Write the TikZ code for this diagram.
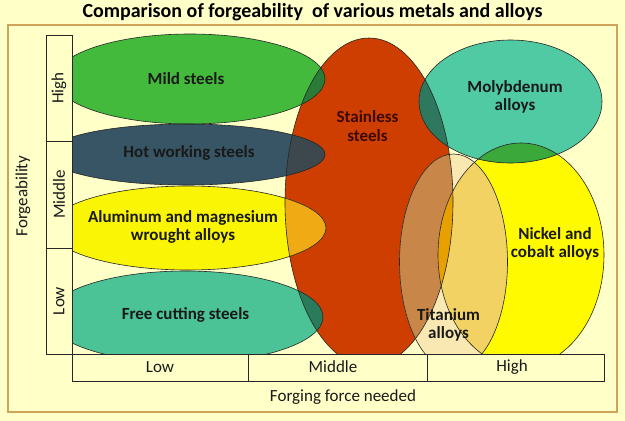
\documentclass[tikz,border=0pt]{standalone}
\usepackage{fontspec}
\setmainfont{Carlito}
\usetikzlibrary{positioning}
\definecolor{bgyellow}{RGB}{255,255,200}
\definecolor{framebrown}{RGB}{208,164,88}
\definecolor{mildgreen}{RGB}{68,186,60}
\definecolor{hotslate}{RGB}{55,85,100}
\definecolor{alyellow}{RGB}{250,245,5}
\definecolor{freeteal}{RGB}{75,195,150}
\definecolor{stainred}{RGB}{205,62,0}
\definecolor{moteal}{RGB}{80,202,162}
\definecolor{niyellow}{RGB}{255,250,0}
\definecolor{tipale}{RGB}{250,232,178}
% overlap colours
\definecolor{mildred}{RGB}{42,122,56}
\definecolor{hotred}{RGB}{60,72,78}
\definecolor{alred}{RGB}{240,170,20}
\definecolor{freered}{RGB}{42,122,92}
\definecolor{mored}{RGB}{45,120,95}
\definecolor{moni}{RGB}{58,168,58}
\definecolor{tired}{RGB}{200,135,72}
\definecolor{tini}{RGB}{243,210,100}
\definecolor{tinired}{RGB}{232,160,0}
\definecolor{stxt}{RGB}{60,10,0}
\tikzset{
	blob/.style={draw=black!85,line width=.6pt},
	lbl/.style={font=\fontsize{17}{18.5}\selectfont\bfseries,align=center,text=black!90},
	axlbl/.style={font=\fontsize{17}{18.5}\selectfont,text=black!90},
	axbox/.style={draw=black!85,line width=.8pt,fill=bgyellow}
}
\def\mildE{(190,79) ellipse [x radius=135, y radius=45]}
\def\hotE{(186,154.5) ellipse [x radius=139, y radius=30.5]}
\def\alE{(188,228) ellipse [x radius=138, y radius=42]}
\def\freeE{(185.5,317) ellipse [x radius=137.5, y radius=46]}
\def\redE{(369,202) ellipse [x radius=84, y radius=164]}
\def\moE{(510.5,101.5) ellipse [x radius=91.5, y radius=61.5]}
\def\niE{(521,255) ellipse [x radius=83, y radius=112]}
\def\tiE{(453.5,262) ellipse [x radius=54, y radius=108]}
\begin{document}
\begin{tikzpicture}[x=1pt,y=-1pt]
		\fill[bgyellow] (0,0) rectangle (625,421);
		\useasboundingbox (0,0) rectangle (625,421);
		\draw[framebrown,line width=2.5pt] (8,25) rectangle (617,412);
		\node[font=\fontsize{20}{22}\selectfont\bfseries] (title) at (312.5,12) {Comparison of forgeability\ \ of various metals and alloys};
		% the metal groups
		\begin{scope}
			\clip (72,30) rectangle (612,354);
			\fill[stainred] \redE;
			\fill[mildgreen] \mildE;
			\fill[hotslate] \hotE;
			\fill[alyellow] \alE;
			\fill[freeteal] \freeE;
			\fill[niyellow] \niE;
			\fill[moteal] \moE;
			\fill[tipale] \tiE;
			\begin{scope}
				\clip \redE;
				\fill[mildred] \mildE;
				\fill[hotred] \hotE;
				\fill[alred] \alE;
				\fill[freered] \freeE;
				\fill[mored] \moE;
				\fill[tired] \tiE;
			\end{scope}
			\begin{scope}
				\clip \niE;
				\fill[moni] \moE;
				\fill[tini] \tiE;
			\end{scope}
			\begin{scope}
				\clip \redE; \clip \niE;
				\fill[tinired] \tiE;
			\end{scope}
			\draw[blob] \redE;
			\draw[blob] \mildE;
			\draw[blob] \hotE;
			\draw[blob] \alE;
			\draw[blob] \freeE;
			\draw[blob] \niE;
			\draw[blob] \moE;
			\draw[blob] \tiE;
		\end{scope}
		\node[lbl] (mild) at (186,79) {Mild steels};
		\node[lbl] (hot) at (189,153) {Hot working steels};
		\node[lbl] (alu) at (183,227) {Aluminum and magnesium\\wrought alloys};
		\node[lbl] (free) at (185.5,315) {Free cutting steels};
		\node[lbl,text=stxt] (stainless) at (367.5,126) {Stainless\\steels};
		\node[lbl] (moly) at (515,97) {Molybdenum\\alloys};
		\node[lbl] (nickel) at (555,244) {Nickel and\\cobalt alloys};
		\node[lbl] (titan) at (448.5,325) {Titanium\\alloys};
		% forgeability axis
		\draw[axbox] (46,35) rectangle (72,141);
		\draw[axbox] (46,141) rectangle (72,248);
		\draw[axbox] (46,248) rectangle (72,354);
		\node[axlbl,rotate=90] (fhigh) at (59,88) {High};
		\node[axlbl,rotate=90] (fmid) at (59,194.5) {Middle};
		\node[axlbl,rotate=90] (flow) at (59,301) {Low};
		\node[axlbl,rotate=90] (forge) at (23,196) {Forgeability};
		% forging force axis
		\draw[axbox] (72,354) rectangle (248,381);
		\draw[axbox] (248,354) rectangle (427,381);
		\draw[axbox] (427,354) rectangle (604,381);
		\node[axlbl] (xlow) at (160,367) {Low};
		\node[axlbl] (xmid) at (333,367) {Middle};
		\node[axlbl] (xhigh) at (512,367) {High};
		\node[axlbl] (force) at (343,397) {Forging force needed};
	    \end{tikzpicture}
\end{document}
